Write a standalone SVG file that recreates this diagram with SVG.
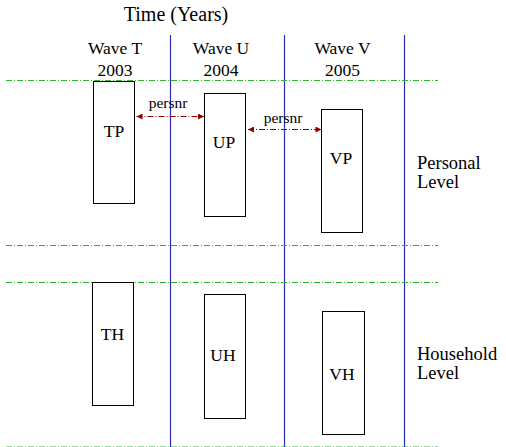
<svg xmlns="http://www.w3.org/2000/svg" width="506" height="447" viewBox="0 0 506 447">
<style>
text{font-family:"Liberation Serif","Times New Roman",serif;fill:#000}
.w{font-size:17.5px;text-anchor:middle}
.lbl{font-size:17.5px;text-anchor:middle}
.lv{font-size:18.5px}
.p{font-size:15.5px;text-anchor:middle}
.box{fill:none;stroke:#000;stroke-width:1}
.blue{stroke:#2b2bb5;stroke-width:1.2;fill:none}
.green{stroke:#2fb52f;stroke-width:1;stroke-dasharray:6,2,1,2;fill:none}
.arr{stroke:#8b0000;stroke-width:1.2;stroke-dasharray:6,2,1,2;fill:none;marker-start:url(#ah);marker-end:url(#ah)}
</style>
<defs>
<marker id="ah" viewBox="0 0 10 10" refX="10" refY="5" markerWidth="8" markerHeight="6" markerUnits="userSpaceOnUse" orient="auto-start-reverse">
<path d="M0,0 L10,5 L0,10 z" fill="#8b0000"/>
</marker>
</defs>
<text x="176" y="21" style="font-size:20px;text-anchor:middle">Time (Years)</text>
<g id="grid">
<line class="blue" x1="170.5" y1="35" x2="170.5" y2="447"/>
<line class="blue" x1="284.5" y1="35" x2="284.5" y2="447"/>
<line class="blue" x1="404.5" y1="35" x2="404.5" y2="447"/>
<line class="green" x1="6" y1="80.5" x2="438" y2="80.5"/>
<line class="green" x1="6" y1="245.5" x2="438" y2="245.5"/>
<line class="green" x1="6" y1="282.5" x2="438" y2="282.5"/>
<line class="green" x1="6" y1="446.5" x2="438" y2="446.5" style="opacity:0.5"/>
</g>
<g id="waveT"><text class="w" x="115" y="54">Wave T</text><text class="w" x="115" y="76">2003</text></g>
<g id="waveU"><text class="w" x="221" y="54">Wave U</text><text class="w" x="221" y="76">2004</text></g>
<g id="waveV"><text class="w" x="342.5" y="54">Wave V</text><text class="w" x="342.5" y="76">2005</text></g>
<g id="TP"><rect class="box" x="93.5" y="81.5" width="41" height="122"/><text class="lbl" x="114" y="137">TP</text></g>
<g id="UP"><rect class="box" x="204.5" y="93.5" width="41" height="123"/><text class="lbl" x="224" y="148">UP</text></g>
<g id="VP"><rect class="box" x="321.5" y="109.5" width="41" height="123"/><text class="lbl" x="341" y="164">VP</text></g>
<g id="TH"><rect class="box" x="92.5" y="282.5" width="41" height="123"/><text class="lbl" x="112.5" y="340">TH</text></g>
<g id="UH"><rect class="box" x="204.5" y="294.5" width="41" height="124"/><text class="lbl" x="223" y="361">UH</text></g>
<g id="VH"><rect class="box" x="322.5" y="311.5" width="42" height="123"/><text class="lbl" x="342" y="380">VH</text></g>
<g id="personal"><text class="lv" x="417" y="168.5">Personal</text><text class="lv" x="417" y="187.5">Level</text></g>
<g id="household"><text class="lv" x="417" y="360">Household</text><text class="lv" x="417" y="379">Level</text></g>
<g id="connectors">
<line class="arr" x1="136.5" y1="116.5" x2="204" y2="116.5"/>
<text class="p" x="168" y="108">persnr</text>
<line class="arr" x1="248" y1="129.5" x2="321.5" y2="129.5"/>
<text class="p" x="283" y="123">persnr</text>
</g>
</svg>
